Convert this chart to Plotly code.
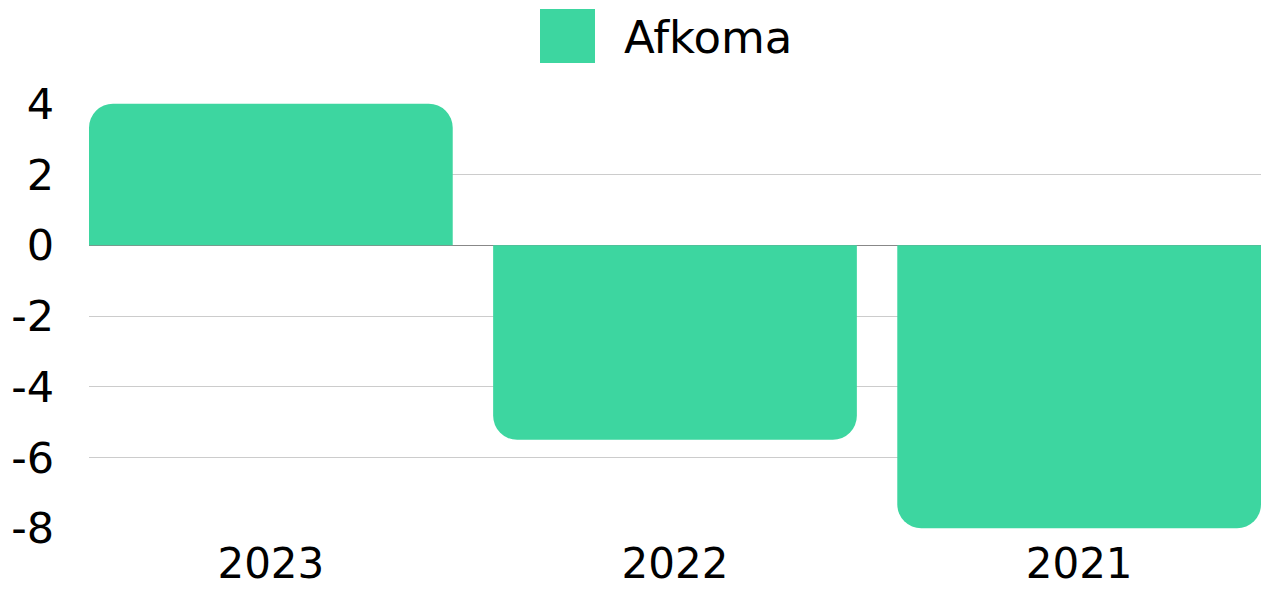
import plotly.graph_objects as go

categories = ["2023", "2022", "2021"]
values = [4, -5.5, -8]
series_name = "Afkoma"
tick_vals = [-8, -6, -4, -2, 0, 2, 4]
tick_text = ["-8", "-6", "-4", "-2", "0", "2", "4"]

color = "#3dd6a0"
font_family = "DejaVu Sans"
fsize = 43

W, H = 1261, 591
# plot area in page pixels
PL, PR, PT, PB = 89, 1261, 103, 529
PW, PH = PR - PL, PB - PT


def px(x):
    return (x - PL) / PW


def py(y):
    return (PB - y) / PH


fig = go.Figure()
fig.add_trace(go.Bar(
    x=categories, y=values, name=series_name,
    marker=dict(color=color, cornerradius=24, line=dict(width=0)),
    showlegend=False,
))

fig.update_layout(
    width=W, height=H, autosize=False,
    margin=dict(l=PL, r=W - PR, t=PT, b=H - PB, pad=0, autoexpand=False),
    paper_bgcolor="white", plot_bgcolor="white",
    bargap=0.1,
    font=dict(family=font_family, size=fsize, color="black"),
    xaxis=dict(range=[-0.45, 2.45], showgrid=False, zeroline=False,
               showline=False, ticks="", ticklabelstandoff=6,
               automargin=False, tickfont=dict(size=42)),
    yaxis=dict(range=[-8.02, 4.02], tickvals=tick_vals, ticktext=tick_text,
               showgrid=True, gridcolor="#cccccc", gridwidth=1,
               zeroline=True, zerolinecolor="#888888", zerolinewidth=1,
               ticks="", ticklabelstandoff=34, automargin=False,
               tickfont=dict(size=fsize)),
    shapes=[dict(type="rect", xref="paper", yref="paper",
                 x0=px(540), x1=px(595), y0=py(63), y1=py(9),
                 fillcolor=color, line=dict(width=0), layer="above")],
    annotations=[dict(text=series_name, xref="paper", yref="paper",
                      x=px(622), y=py(37),
                      xanchor="left", yanchor="middle", showarrow=False,
                      font=dict(size=45, color="black"))],
)

fig.write_html(
    "out.html",
    config={"displayModeBar": False},
    post_script="document.body.style.margin='0px';document.body.style.overflow='hidden';",
)
